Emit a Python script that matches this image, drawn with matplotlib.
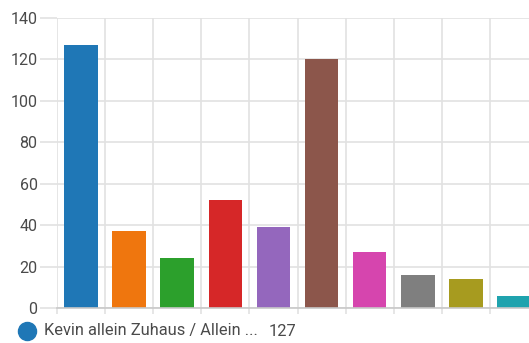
import matplotlib
matplotlib.use("Agg")
import matplotlib.pyplot as plt
from matplotlib.lines import Line2D

categories = ["Kevin allein Zuhaus / Allein ...", "B", "C", "D", "E", "F", "G", "H", "I", "J"]
values = [127, 37, 24, 52, 39, 120, 27, 16, 14, 6]
colors = ["#1f77b6", "#ef760e", "#2ca02c", "#d62728", "#9467bd",
          "#8c564b", "#d645ae", "#7f7f7f", "#a79b1f", "#1fa3ae"]
yticks = [0, 20, 40, 60, 80, 100, 120, 140]
legend_label = "Kevin allein Zuhaus / Allein ..."
legend_value = "127"

plt.rcParams['font.family'] = ['Roboto', 'DejaVu Sans']

W, H = 529, 343
fig = plt.figure(figsize=(W / 100, H / 100), dpi=100)
left, right, top, bottom = 57, 529, 18, 308
ax = fig.add_axes([left / W, (H - bottom) / H, (right - left) / W, (bottom - top) / H])

x = list(range(len(values)))
ax.bar(x, values, width=0.7, color=colors, zorder=3)

grid_c = "#e2e2e2"
ax.set_yticks(yticks)
ax.set_xticks([i - 0.5 for i in range(len(values) + 1)])
ax.set_xticklabels([])

band_px = 48.1
ax.set_xlim(-0.5, -0.5 + (right - left) / band_px)
ax.set_ylim(0, 140)

ax.grid(True, color=grid_c, linewidth=1.2, zorder=0)
ax.tick_params(axis='y', length=12, color=grid_c, width=1.2, pad=2,
               labelsize=11.5, labelcolor="#4a4a4a")
ax.tick_params(axis='x', length=4, color=grid_c, width=1.2)
for s in ["top", "right", "left"]:
    ax.spines[s].set_visible(False)
ax.spines["bottom"].set_color("#c8c8c8")
ax.spines["bottom"].set_linewidth(1.2)
ax.spines["bottom"].set_zorder(4)

# legend row
fig.add_artist(Line2D([27 / W], [1 - 331 / H], marker='o', markersize=13,
                      color=colors[0], linestyle='none'))
fig.text(44 / W, 1 - 331 / H, legend_label, fontsize=11.8, color="#4a4a4a",
         va='center', ha='left')
fig.text(269 / W, 1 - 331 / H, legend_value, fontsize=11.8, color="#4a4a4a",
         va='center', ha='left')

fig.savefig("out.png", dpi=100)
